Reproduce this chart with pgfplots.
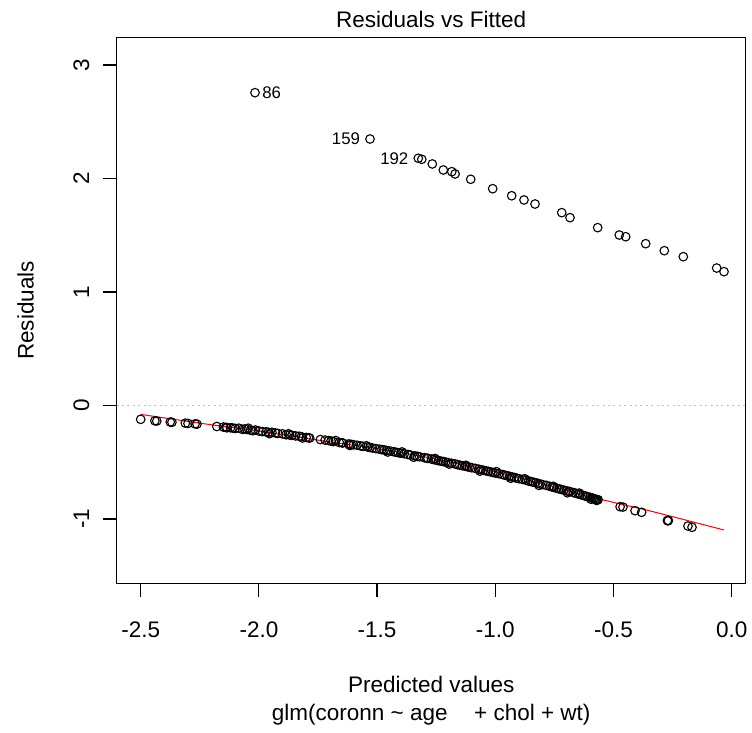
\documentclass[border=0pt]{standalone}
\usepackage{fontspec}
\setmainfont{Liberation Sans}
\usepackage{pgfplots}
\pgfplotsset{compat=1.18}
\pgfplotsset{
  every axis title/.style={at={(axis description cs:0.5,1)}, anchor=base, yshift=4.85pt},
  every axis x label/.style={at={(axis description cs:0.5,0)}, anchor=north, inner sep=0pt, yshift=-46.3pt, align=center},
  every axis y label/.style={at={(axis description cs:-0.132,0.5)}, rotate=90, anchor=base},
}
\begin{document}
\begin{tikzpicture}[font=\fontsize{11.25}{13.9}\selectfont]
\useasboundingbox (-58.35pt,-74.85pt) rectangle (317.65pt,291.65pt);
\begin{axis}[
  at={(0pt,0pt)}, anchor=south west,
  scale only axis, width=314.5pt, height=272.8pt,
  xmin=-2.6015, xmax=0.0592, ymin=-1.5665, ymax=3.2405,
  axis line style={line width=0.6pt},
  tick style={line width=0.6pt, black},
  tick align=outside, major tick length=6.8pt,
  xtick={-2.5,-2,-1.5,-1,-0.5,0},
  xticklabels={-2.5,-2.0,-1.5,-1.0,-0.5,0.0},
  ytick={-1,0,1,2,3},
  yticklabels={-1,0,1,2,3},
  xtick pos=bottom, ytick pos=left,
  xticklabel style={anchor=base, yshift=-20.3pt},
  yticklabel style={rotate=90, anchor=base},
  yticklabel shift=7pt,
  title={Residuals vs Fitted},
  xlabel={Predicted values\\glm(coronn \textasciitilde{} age\hspace{0.9em} + chol + wt)},
  ylabel={Residuals},
  clip=false,
]
% zero reference line
\addplot[color={rgb,255:red,190;green,190;blue,190}, line width=0.5pt, dash pattern=on 1pt off 1.7pt, forget plot]
  coordinates {(-2.6015,0) (0.0592,0)};
% upper branch
\addplot[only marks, mark=o, mark size=2.15pt, black, line width=0.55pt] table {
x y
-2.0165 2.756
-1.530 2.348
-1.3257 2.178
-1.311 2.169
-1.2665 2.128
-1.220 2.075
-1.184 2.060
-1.170 2.040
-1.104 1.993
-1.011 1.910
-0.9306 1.848
-0.8786 1.811
-0.832 1.775
-0.719 1.699
-0.684 1.655
-0.567 1.567
-0.4755 1.502
-0.4484 1.487
-0.3638 1.4256
-0.2851 1.364
-0.2047 1.311
-0.0635 1.211
-0.0326 1.179
};
% lower branch
\addplot[only marks, mark=o, mark size=2.15pt, black, line width=0.55pt] table {
x y
-2.500 -0.122
-2.440 -0.135
-2.432 -0.137
-2.375 -0.146
-2.368 -0.148
-2.311 -0.156
-2.300 -0.158
-2.270 -0.162
-2.262 -0.164
-2.178 -0.185
-2.150 -0.190
-2.135 -0.196
-2.120 -0.196
-2.100 -0.202
-2.085 -0.200
-2.070 -0.210
-2.050 -0.211
-2.035 -0.218
-2.015 -0.216
-2.000 -0.225
-1.985 -0.230
-1.960 -0.236
-1.945 -0.236
-1.920 -0.246
-1.900 -0.250
-1.885 -0.258
-1.860 -0.263
-1.845 -0.268
-1.820 -0.275
-1.800 -0.282
-1.785 -0.287
-1.720 -0.305
-1.705 -0.309
-1.685 -0.318
-1.660 -0.326
-1.645 -0.330
-1.620 -0.339
-1.600 -0.346
-1.585 -0.350
-1.560 -0.360
-1.540 -0.366
-1.520 -0.374
-1.505 -0.380
-1.480 -0.389
-1.460 -0.396
-1.445 -0.401
-1.420 -0.412
-1.400 -0.420
-1.385 -0.425
-1.360 -0.436
-1.340 -0.444
-1.320 -0.452
-1.300 -0.460
-1.285 -0.466
-1.260 -0.477
-1.240 -0.486
-1.220 -0.494
-1.200 -0.503
-1.185 -0.509
-1.160 -0.521
-1.140 -0.530
-1.120 -0.539
-1.100 -0.548
-1.085 -0.554
-1.060 -0.566
-1.040 -0.576
-1.020 -0.585
-1.000 -0.595
-0.985 -0.601
-0.960 -0.614
-0.940 -0.624
-0.920 -0.634
-0.900 -0.645
-0.885 -0.651
-0.860 -0.665
-0.840 -0.675
-0.820 -0.686
-0.800 -0.697
-0.785 -0.703
-0.760 -0.718
-0.740 -0.729
-0.720 -0.740
-0.700 -0.751
-0.685 -0.758
-0.660 -0.773
-0.640 -0.785
-0.620 -0.797
-0.600 -0.809
-0.590 -0.815
-0.580 -0.822
-0.575 -0.828
-0.570 -0.832
-0.565 -0.830
-0.472 -0.892
-0.460 -0.895
-0.409 -0.927
-0.381 -0.941
-0.272 -1.013
-0.270 -1.016
-0.268 -1.014
-0.185 -1.062
-0.168 -1.073
-2.140 -0.193
-2.110 -0.199
-2.060 -0.207
-2.025 -0.222
-1.970 -0.232
-1.930 -0.242
-1.870 -0.260
-1.830 -0.271
-1.790 -0.284
-1.740 -0.300
-1.695 -0.313
-1.650 -0.328
-1.610 -0.342
-1.570 -0.356
-1.530 -0.370
-1.490 -0.385
-1.470 -0.392
-1.430 -0.407
-1.410 -0.416
-1.370 -0.431
-1.330 -0.448
-1.290 -0.464
-1.270 -0.472
-1.250 -0.481
-1.230 -0.490
-1.210 -0.499
-1.170 -0.515
-1.150 -0.526
-1.130 -0.534
-1.110 -0.544
-1.070 -0.561
-1.050 -0.571
-1.030 -0.580
-1.010 -0.590
-0.970 -0.608
-0.950 -0.619
-0.930 -0.629
-0.910 -0.640
-0.870 -0.659
-0.850 -0.670
-0.830 -0.680
-0.810 -0.692
-0.770 -0.712
-0.750 -0.723
-0.730 -0.735
-0.710 -0.746
-0.690 -0.757
-0.670 -0.767
-0.650 -0.779
-0.630 -0.791
-0.610 -0.803
-0.585 -0.820
-0.572 -0.836
-2.045 -0.200
-1.955 -0.248
-1.875 -0.249
-1.815 -0.286
-1.675 -0.309
-1.615 -0.352
-1.545 -0.355
-1.455 -0.410
-1.395 -0.409
-1.345 -0.456
-1.255 -0.467
-1.195 -0.516
-1.125 -0.527
-1.065 -0.578
-0.995 -0.583
-0.935 -0.641
-0.875 -0.646
-0.815 -0.704
-0.755 -0.712
-0.695 -0.769
-0.645 -0.772
-0.595 -0.826
};
% smoother
\addplot[red, line width=0.5pt, smooth] coordinates {
(-2.500,-0.078) (-2.235,-0.160) (-2.000,-0.225) (-1.784,-0.295) (-1.500,-0.380)
(-1.275,-0.462) (-1.000,-0.585) (-0.800,-0.690) (-0.571,-0.818) (-0.332,-0.936) (-0.0326,-1.097)
};
% point labels
\addplot[draw=none, mark=none, nodes near coords, point meta=explicit symbolic,
  nodes near coords style={anchor=west, font=\fontsize{8.4}{10}\selectfont, inner sep=0pt, xshift=3.5pt, black}]
  coordinates {(-2.0165,2.756) [86]};
\addplot[draw=none, mark=none, nodes near coords, point meta=explicit symbolic,
  nodes near coords style={anchor=east, font=\fontsize{8.4}{10}\selectfont, inner sep=0pt, xshift=-4.8pt, black}]
  coordinates {(-1.530,2.348) [159] (-1.3257,2.178) [192]};
\end{axis}
\end{tikzpicture}
\end{document}
